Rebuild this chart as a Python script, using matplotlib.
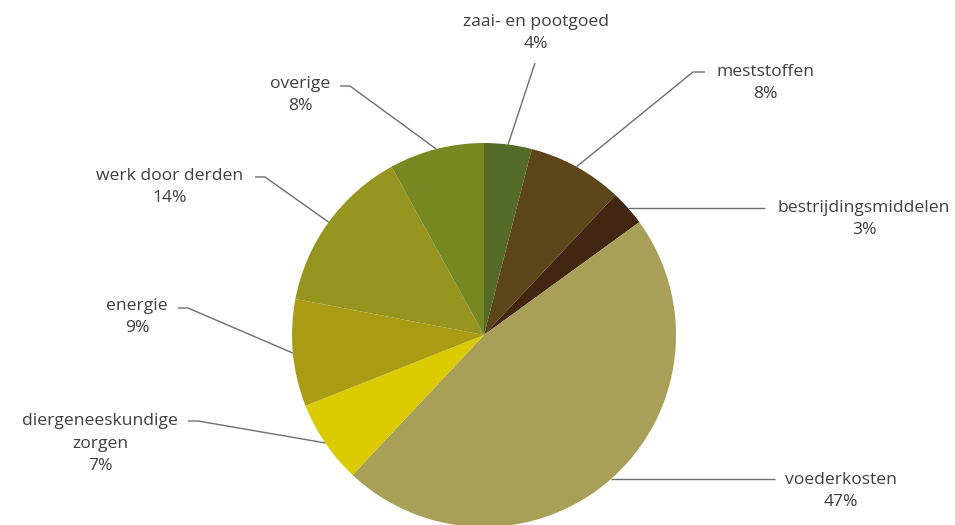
import numpy as np
import matplotlib.pyplot as plt

# kostenverdeling (%)
categories = ['zaai- en pootgoed', 'meststoffen', 'bestrijdingsmiddelen', 'voederkosten',
              'diergeneeskundige\nzorgen', 'energie', 'werk door derden', 'overige']
shares = [4, 8, 3, 47, 7, 9, 14, 8]
colors = ['#546b27', '#5b4519', '#432612', '#a89f59',
          '#dccb00', '#a99b14', '#95951f', '#778823']

W, H = 955, 525
plt.rcParams['font.family'] = ['Open Sans', 'DejaVu Sans']

fig = plt.figure(figsize=(W / 100, H / 100), dpi=100)
ax = fig.add_axes([0, 0, 1, 1])

cx, cy, r = 484, H - 335, 192
wedges, _ = ax.pie(shares, colors=colors, startangle=90, counterclock=False,
                   center=(cx, cy), radius=r, wedgeprops=dict(linewidth=0))

# label layout in image pixels: (elbow x, elbow y, end x, text x, text y of 1st line)
layout = [
    (535, 63, 535, 536, 22),
    (693, 72, 705, 765, 72),
    (700, 208, 765, 864, 208),
    (700, 481, 775, 841, 480),
    (198, 421, 188, 100, 421),
    (188, 308, 178, 137, 306),
    (265, 177, 255, 170, 176),
    (350, 86, 340, 300, 84),
]

for w, lab, pct, (ex, ey, endx, tx, ty) in zip(wedges, categories, shares, layout):
    mid = np.deg2rad((w.theta1 + w.theta2) / 2)
    px, py = cx + r * np.cos(mid), cy + r * np.sin(mid)
    if lab == 'voederkosten' or lab == 'bestrijdingsmiddelen':
        ey = H - py
    ax.plot([px, ex, endx], [py, H - ey, H - ey], color='#6e6e6e', lw=1, solid_capstyle='butt')
    lines = lab.split('\n') + [f'{pct}%']
    for i, t in enumerate(lines):
        ax.text(tx, H - ty - i * 22.5, t, ha='center', va='center',
                fontsize=12.6, color='#404040')

ax.set_xlim(0, W)
ax.set_ylim(0, H)
ax.set_aspect('equal')
ax.axis('off')

fig.savefig('out.png', dpi=100)
